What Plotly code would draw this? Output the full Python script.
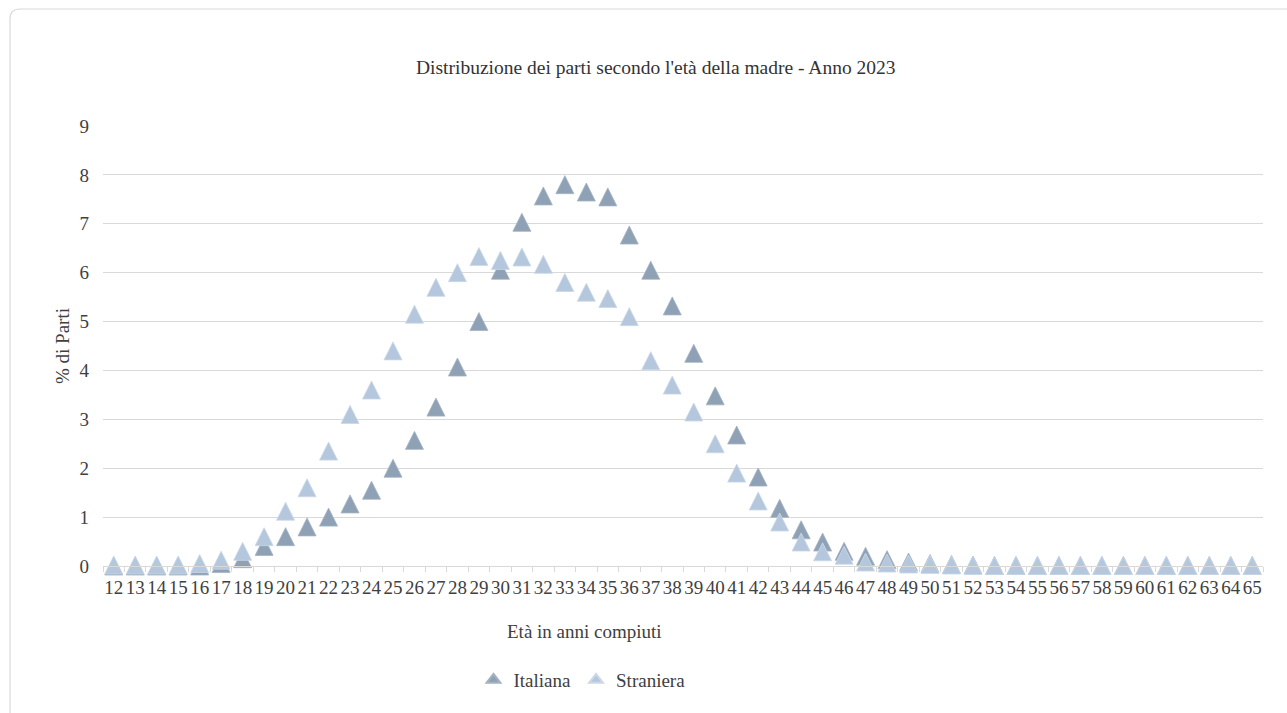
import plotly.graph_objects as go

# Ages (completed years) on the category axis
ages = list(range(12, 66))

# Share of births (%) by mother's age
italiana = [
    0.0, 0.0, 0.0, 0.0, 0.0, 0.05, 0.15, 0.4, 0.6, 0.8,
    1.0, 1.27, 1.55, 2.0, 2.57, 3.25, 4.07, 5.0, 6.05, 7.03,
    7.57, 7.8, 7.65, 7.55, 6.77, 6.05, 5.32, 4.35, 3.48, 2.68,
    1.82, 1.18, 0.74, 0.49, 0.3, 0.2, 0.13, 0.08, 0.05, 0.03,
    0.02, 0.01, 0.01, 0.01, 0.01, 0.01, 0.01, 0.01, 0.01, 0.01,
    0.01, 0.01, 0.01, 0.01,
]
straniera = [
    0.02, 0.02, 0.02, 0.02, 0.05, 0.12, 0.3, 0.6, 1.12, 1.6,
    2.35, 3.1, 3.6, 4.4, 5.15, 5.7, 6.0, 6.33, 6.25, 6.32,
    6.17, 5.8, 5.6, 5.47, 5.1, 4.2, 3.7, 3.15, 2.5, 1.9,
    1.33, 0.9, 0.49, 0.29, 0.22, 0.08, 0.06, 0.04, 0.03, 0.02,
    0.01, 0.01, 0.01, 0.01, 0.01, 0.01, 0.01, 0.01, 0.01, 0.01,
    0.01, 0.01, 0.01, 0.01,
]

series = [
    ("Italiana", italiana, "#8fa1b5", "#a3b2c3"),
    ("Straniera", straniera, "#b4c7dd", "#cbd8e7"),
]

y_ticks = list(range(0, 10))

FONT = "Liberation Serif, Times New Roman, serif"
TXT = "#404040"
GRID = "#d9d9d9"
MSIZE = 18

fig = go.Figure()
for name, values, fill, edge in series:
    # arrow-down turned half a turn: an upward triangle as tall as it is
    # wide, pushed back by half its height so it sits centred on the point
    fig.add_trace(go.Scatter(
        x=ages, y=values, mode="markers", name=name, legendgroup=name,
        showlegend=False, cliponaxis=False,
        marker=dict(symbol="arrow-down", angle=180, size=MSIZE,
                    standoff=MSIZE / 2, color=fill,
                    line=dict(color=edge, width=0.8)),
    ))
for name, values, fill, edge in series:
    # legend key with a plain centred triangle
    fig.add_trace(go.Scatter(
        x=[None], y=[None], mode="markers", name=name, legendgroup=name,
        marker=dict(symbol="triangle-up", size=12, color=fill,
                    line=dict(color=edge, width=0.8)),
    ))

L, R, T, B = 103, 24, 126, 147
W, H = 1287, 713
pw = W - L - R
ph = H - T - B


def px_x(p):
    return (p - L) / pw


def px_y(p):
    return (H - B - p) / ph


# Rounded outer frame of the chart area
x0, y0 = px_x(10), px_y(9)
rx, ry = 10 / pw, 10 / ph
frame = (f"M {x0},{px_y(760)} L {x0},{y0 - ry} Q {x0},{y0} {x0 + rx},{y0} "
         f"L {px_x(1300)},{y0}")

fig.update_layout(
    width=W, height=H,
    margin=dict(l=L, r=R, t=T, b=B),
    paper_bgcolor="white", plot_bgcolor="white",
    font=dict(family=FONT, color=TXT, size=19),
    showlegend=True,
    legend=dict(orientation="h", x=px_x(582), xanchor="center",
                y=px_y(680), yanchor="middle", itemsizing="constant",
                font=dict(family=FONT, size=19, color=TXT),
                itemwidth=30, tracegroupgap=0),
    shapes=[dict(type="path", xref="paper", yref="paper", path=frame,
                 line=dict(color="#d9d9d9", width=1.2), layer="below")],
    annotations=[
        dict(text="Distribuzione dei parti secondo l'età della madre - Anno 2023",
             xref="paper", yref="paper", x=px_x(656), y=px_y(67),
             xanchor="center", yanchor="middle", showarrow=False,
             font=dict(family=FONT, size=19.5, color="#333333")),
        dict(text="Età in anni compiuti",
             xref="paper", yref="paper", x=px_x(584), y=px_y(631),
             xanchor="center", yanchor="middle", showarrow=False,
             font=dict(family=FONT, size=19, color=TXT)),
    ],
    xaxis=dict(
        range=[11.5, 65.5], tickmode="array", tickvals=ages,
        ticktext=[str(a) for a in ages], ticks="", showgrid=False,
        zeroline=False, showline=True, linecolor=GRID, linewidth=1,
        ticklabelstandoff=4,
        tickfont=dict(family=FONT, size=19, color=TXT),
        minor=dict(ticks="outside", tick0=11.5, dtick=1, ticklen=5,
                   tickcolor=GRID, tickwidth=1, showgrid=False),
    ),
    yaxis=dict(
        range=[0, 9], tickmode="array", tickvals=y_ticks,
        showgrid=True, gridcolor=GRID, gridwidth=1, zeroline=False,
        showline=False, ticks="", ticklabelstandoff=13,
        tickfont=dict(family=FONT, size=19, color=TXT),
        title=dict(text="% di Parti", standoff=4,
                   font=dict(family=FONT, size=19, color=TXT)),
    ),
)

fig.write_html("out.html")
